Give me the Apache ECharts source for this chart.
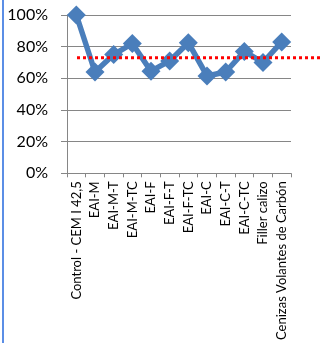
<!DOCTYPE html>
<html>
<head>
<meta charset="utf-8">
<script src="https://cdn.jsdelivr.net/npm/echarts@6/dist/echarts.min.js"></script>
<style>
html,body{margin:0;padding:0;background:#fff;}
#c{width:320px;height:343px;position:relative;}
#edge{position:absolute;left:2px;top:0;width:2px;height:343px;background:#5b8ee6;}
</style>
</head>
<body>
<div id="c"></div>
<div id="edge"></div>
<script>
const categories = ['Control - CEM I 42,5','EAI-M','EAI-M-T','EAI-M-TC','EAI-F','EAI-F-T','EAI-F-TC','EAI-C','EAI-C-T','EAI-C-TC','Filler calizo','Cenizas Volantes de Carbón'];
const values = [100, 64, 75, 82, 64.5, 71, 82.5, 61.5, 64, 77, 70, 83];
const referenceLevel = 74.3;
const yTicks = [0, 20, 40, 60, 80, 100];

const chart = echarts.init(document.getElementById('c'), null, {renderer:'canvas'});
const font = 'Lato, "Noto Sans", sans-serif';
chart.setOption({
  animation:false,
  grid:[
    {left:67, right:29, top:15, bottom:162},
    {left:77, right:0, top:15, bottom:162}
  ],
  xAxis:[
    {type:'category', gridIndex:0, data:categories, boundaryGap:true,
     axisLine:{lineStyle:{color:'#868686', width:1}},
     axisTick:{show:true, length:4, interval:0, lineStyle:{color:'#868686'}},
     axisLabel:{rotate:90, interval:0, margin:8, color:'#000', fontFamily:font, fontSize:13}},
    {type:'value', gridIndex:1, min:0, max:1, show:false}
  ],
  yAxis:[
    {type:'value', gridIndex:0, min:0, max:100, interval:20,
     axisLine:{show:true, lineStyle:{color:'#868686', width:1}},
     axisTick:{show:true, length:6, lineStyle:{color:'#868686'}},
     splitLine:{show:true, lineStyle:{color:'#868686', width:1}},
     axisLabel:{formatter:'{value}%', margin:19, color:'#000', fontFamily:font, fontSize:16}},
    {type:'value', gridIndex:1, min:0, max:100, show:false}
  ],
  series:[
    {type:'line', xAxisIndex:0, yAxisIndex:0, data:values,
     symbol:'diamond', symbolSize:19,
     lineStyle:{color:'#4a7ebb', width:5.5},
     itemStyle:{color:'#4a7ebb'}, z:2},
    {type:'line', xAxisIndex:1, yAxisIndex:1, data:[[0,referenceLevel],[1,referenceLevel]],
     symbol:'none', lineStyle:{color:'#ff0000', width:3, type:[3,3]}, z:3}
  ]
});
</script>
</body>
</html>
